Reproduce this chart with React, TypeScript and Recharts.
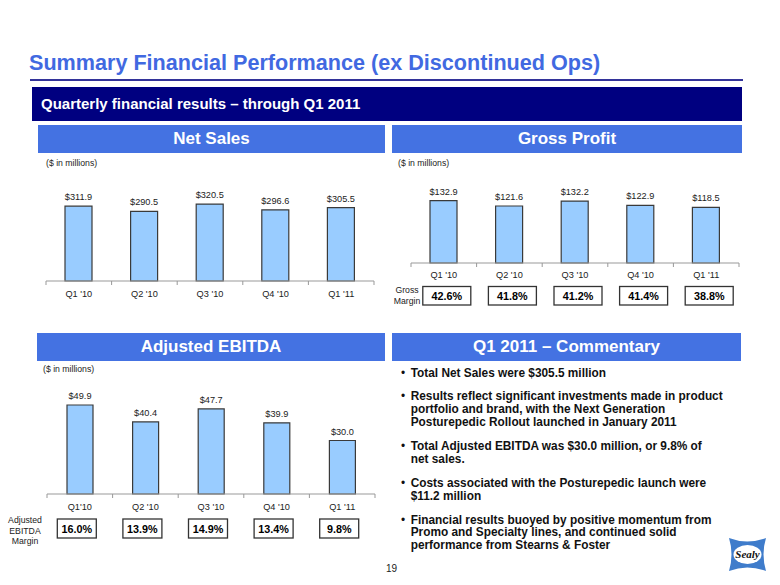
import React from 'react';
import { BarChart, Bar, XAxis, YAxis, LabelList } from 'recharts';

const FONT = '"Liberation Sans", Arial, Helvetica, sans-serif';

const quarters = ["Q1 '10", "Q2 '10", "Q3 '10", "Q4 '10", "Q1 '11"];
const ebitdaQuarters = ["Q1'10", "Q2 '10", "Q3 '10", "Q4 '10", "Q1 '11"];
const netSales = [311.9, 290.5, 320.5, 296.6, 305.5];
const grossProfit = [132.9, 121.6, 132.2, 122.9, 118.5];
const grossMargin = ['42.6%', '41.8%', '41.2%', '41.4%', '38.8%'];
const adjEbitda = [49.9, 40.4, 47.7, 39.9, 30.0];
const ebitdaMargin = ['16.0%', '13.9%', '14.9%', '13.4%', '9.8%'];

const commentary: string[][] = [
  ['Total Net Sales were $305.5 million'],
  [
    'Results reflect significant investments made in product',
    'portfolio and brand, with the Next Generation',
    'Posturepedic Rollout launched in January 2011',
  ],
  ['Total Adjusted EBITDA was $30.0 million, or 9.8% of', 'net sales.'],
  ['Costs associated with the Posturepedic launch were', '$11.2 million'],
  [
    'Financial results buoyed by positive momentum from',
    'Promo and Specialty lines, and continued solid',
    'performance from Stearns & Foster',
  ],
];
const commentaryTops = [367, 390.4, 440.4, 477, 513.7];

type ChartProps = {
  left: number;
  top: number;
  width: number;
  height: number;
  margin: { top: number; right: number; bottom: number; left: number };
  categories: string[];
  values: number[];
  domainMax: number;
  barSize: number;
  axisHeight: number;
  labelDy: number;
  margins?: string[];
  box?: { top: number; w: number; h: number; dx: number };
};

const MiniBar = (p: ChartProps) => {
  const data = p.categories.map((c, i) => ({ name: c, value: p.values[i] }));
  const half = (p.width - p.margin.left - p.margin.right) / p.categories.length / 2;
  const renderTick = (props: any) => {
    const { x, y, payload } = props;
    const i = props.index ?? payload.index ?? 0;
    return (
      <g>
        <line x1={x - half} x2={x - half} y1={y} y2={y + 4} stroke="#999" strokeWidth={1} />
        {i === p.categories.length - 1 && (
          <line x1={x + half} x2={x + half} y1={y} y2={y + 4} stroke="#999" strokeWidth={1} />
        )}
        <text
          x={x}
          y={y + p.labelDy}
          textAnchor="middle"
          dominantBaseline="central"
          fontSize={9.2}
          fill="#222"
          fontFamily={FONT}
        >
          {payload.value}
        </text>
        {p.margins && p.box && (
          <g>
            <rect
              x={x - p.box.w / 2 + p.box.dx}
              y={y + p.box.top}
              width={p.box.w}
              height={p.box.h}
              fill="#fff"
              stroke="#333"
              strokeWidth={1.3}
            />
            <text
              x={x + p.box.dx}
              y={y + p.box.top + p.box.h / 2 + 0.5}
              textAnchor="middle"
              dominantBaseline="central"
              fontSize={10.8}
              fontWeight="bold"
              fill="#000"
              fontFamily={FONT}
            >
              {p.margins[i]}
            </text>
          </g>
        )}
      </g>
    );
  };
  return (
    <div style={{ position: 'absolute', left: p.left, top: p.top }}>
      <BarChart width={p.width} height={p.height} data={data} margin={p.margin}>
        <XAxis
          dataKey="name"
          height={p.axisHeight}
          axisLine={{ stroke: '#999', strokeWidth: 1 }}
          tickLine={false}
          tickSize={0}
          tickMargin={0}
          interval={0}
          tick={renderTick}
        />
        <YAxis hide width={0} domain={[0, p.domainMax]} />
        <Bar
          dataKey="value"
          fill="#99CCFF"
          stroke="#3a3a3a"
          strokeWidth={1.2}
          barSize={p.barSize}
          isAnimationActive={false}
        >
          <LabelList
            dataKey="value"
            position="top"
            offset={6}
            fontSize={9.2}
            fill="#222"
            fontFamily={FONT}
            formatter={(v: any) => `$${Number(v).toFixed(1)}`}
          />
        </Bar>
      </BarChart>
    </div>
  );
};

const Header = ({ x, y, w, h, text }: { x: number; y: number; w: number; h: number; text: string }) => (
  <div
    style={{
      position: 'absolute',
      left: x,
      top: y,
      width: w,
      height: h,
      background: '#4472E2',
      color: '#fff',
      fontWeight: 'bold',
      fontSize: 17,
      lineHeight: `${h}px`,
      textAlign: 'center',
      fontFamily: FONT,
    }}
  >
    {text}
  </div>
);

const Small = ({ x, y, children, align }: { x: number; y: number; children: any; align?: any }) => (
  <div
    style={{
      position: 'absolute',
      left: x,
      top: y,
      fontSize: 8.7,
      color: '#222',
      fontFamily: FONT,
      textAlign: align || 'left',
      lineHeight: '10.5px',
      whiteSpace: 'nowrap',
    }}
  >
    {children}
  </div>
);

export default function App() {
  return (
    <div
      style={{
        position: 'absolute',
        left: 0,
        top: 0,
        width: 780,
        height: 585,
        background: '#fff',
        fontFamily: FONT,
        overflow: 'hidden',
      }}
    >
      <div
        style={{
          position: 'absolute',
          left: 29,
          top: 50,
          fontSize: 21.6,
          fontWeight: 'bold',
          color: '#4169E1',
          whiteSpace: 'nowrap',
          lineHeight: '26px',
        }}
      >
        Summary Financial Performance (ex Discontinued Ops)
      </div>
      <div style={{ position: 'absolute', left: 30, top: 79, width: 713, height: 2, background: '#333399' }} />
      <div
        style={{
          position: 'absolute',
          left: 32,
          top: 87,
          width: 710,
          height: 34,
          background: '#000080',
          color: '#fff',
          fontWeight: 'bold',
          fontSize: 15,
          lineHeight: '34px',
          paddingLeft: 9,
          boxSizing: 'border-box',
          whiteSpace: 'nowrap',
        }}
      >
        Quarterly financial results – through Q1 2011
      </div>

      <Header x={38} y={125} w={347} h={28} text="Net Sales" />
      <Header x={392} y={125} w={350} h={28} text="Gross Profit" />
      <Header x={37} y={333} w={348} h={28} text="Adjusted EBITDA" />
      <Header x={392} y={333} w={349} h={28} text="Q1 2011 – Commentary" />

      <Small x={46} y={158}>($ in millions)</Small>
      <Small x={398} y={158}>($ in millions)</Small>
      <Small x={43} y={364}>($ in millions)</Small>

      <MiniBar
        left={0}
        top={170}
        width={390}
        height={136}
        margin={{ top: 27, right: 16, bottom: 0, left: 46 }}
        categories={quarters}
        values={netSales}
        domainMax={350}
        barSize={27}
        axisHeight={25}
        labelDy={13}
      />
      <MiniBar
        left={392}
        top={165}
        width={388}
        height={148}
        margin={{ top: 23, right: 41, bottom: 0, left: 19 }}
        categories={quarters}
        values={grossProfit}
        domainMax={160}
        barSize={27}
        axisHeight={50}
        labelDy={12}
        margins={grossMargin}
        box={{ top: 23.5, w: 48, h: 18.5, dx: 3 }}
      />
      <MiniBar
        left={0}
        top={372}
        width={390}
        height={177}
        margin={{ top: 15, right: 15, bottom: 0, left: 47 }}
        categories={ebitdaQuarters}
        values={adjEbitda}
        domainMax={60}
        barSize={26}
        axisHeight={55}
        labelDy={12.5}
        margins={ebitdaMargin}
        box={{ top: 25, w: 39, h: 19, dx: -3 }}
      />

      <Small x={385} y={285} align="center">
        <div style={{ width: 44, textAlign: 'center' }}>Gross<br />Margin</div>
      </Small>
      <Small x={3} y={515} align="center">
        <div style={{ width: 44, textAlign: 'center' }}>Adjusted<br />EBITDA<br />Margin</div>
      </Small>

      {commentary.map((lines, i) => (
        <div
          key={i}
          style={{
            position: 'absolute',
            left: 401,
            top: commentaryTops[i],
            fontSize: 11.85,
            fontWeight: 'bold',
            color: '#111',
            lineHeight: '12.6px',
            whiteSpace: 'nowrap',
          }}
        >
          <span style={{ position: 'absolute', left: 0, top: 0, fontWeight: 'normal' }}>•</span>
          <div style={{ marginLeft: 9.7 }}>
            {lines.map((l, j) => (
              <div key={j}>{l}</div>
            ))}
          </div>
        </div>
      ))}

      <div style={{ position: 'absolute', left: 386, top: 563, fontSize: 10, color: '#222' }}>19</div>

      <svg style={{ position: 'absolute', left: 728, top: 537 }} width={39} height={35}>
        <path d="M1,1 Q19,8 38,1 Q33,17 38,34 Q19,27 1,34 Q6,17 1,1 Z" fill="#3F7CCB" />
        <ellipse cx={19.5} cy={17.5} rx={14} ry={9.5} fill="#fff" />
        <text
          x={19.5}
          y={21}
          textAnchor="middle"
          fontSize={11}
          fontStyle="italic"
          fontWeight="bold"
          fontFamily='"Liberation Serif", serif'
          fill="#111"
        >
          Sealy
        </text>
      </svg>
    </div>
  );
}
